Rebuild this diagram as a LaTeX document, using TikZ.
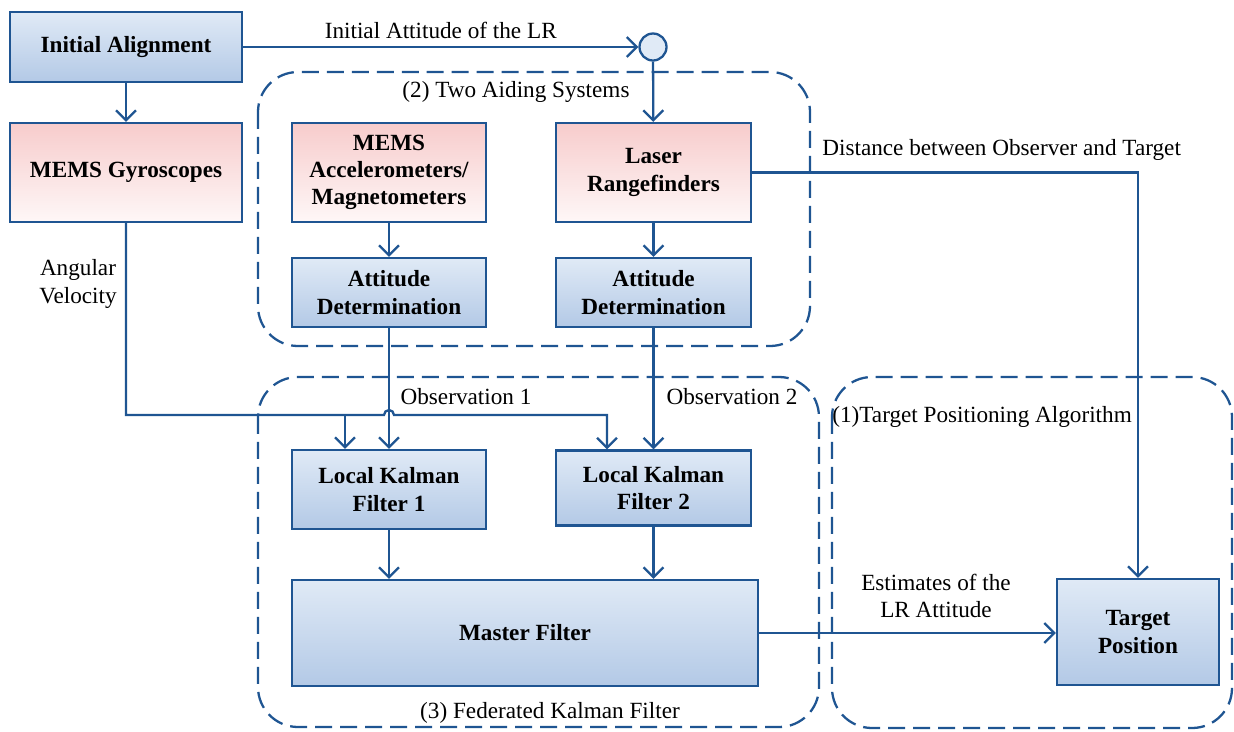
\documentclass[tikz,border=0pt]{standalone}
\usepackage{fontspec}
\setmainfont{Liberation Serif}
\usetikzlibrary{arrows.meta,positioning}
\definecolor{lineblue}{HTML}{1F5592}
\definecolor{boxtop}{HTML}{E0EAF6}
\definecolor{boxbot}{HTML}{B3C9E6}
\definecolor{pinktop}{HTML}{F7CCCC}
\definecolor{pinkbot}{HTML}{FEF7F7}
\newcommand{\diagfont}{\fontsize{13.2}{15.5}\selectfont}
\tikzset{>={Straight Barb[length=0.2cm,width=0.4cm]},
  bluebox/.style={draw=lineblue, line width=1.3pt, top color=boxtop, bottom color=boxbot,
    align=center, font=\diagfont\bfseries},
  pinkbox/.style={bluebox, top color=pinktop, bottom color=pinkbot},
  group/.style={draw=lineblue, line width=1.3pt, dash pattern=on 0.34cm off 0.16cm,
    rounded corners=0.8cm},
  link/.style={draw=lineblue, line width=1.3pt, ->}}

\begin{document}
\begin{tikzpicture}[x=0.02cm, y=-0.02cm, font=\diagfont]
    \useasboundingbox (0,0) rectangle (1234,731);

    % dashed groups
    \draw[group] (258,72) rectangle (810,346);
    \draw[group] (258,377) rectangle (819,727);
    \draw[group] (832,377) rectangle (1232,728);
    \node at (516,92) {(2) Two Aiding Systems};
    \node at (550,713) {(3) Federated Kalman Filter};
    \node[anchor=west, inner sep=0pt] at (832,417) {(1)Target Positioning Algorithm};

    % blocks
    \node[bluebox, minimum width=4.64cm, minimum height=1.4cm] (align) at (126,47) {Initial Alignment};
    \node[pinkbox, minimum width=4.64cm, minimum height=1.98cm] (gyro) at (126,172.5) {MEMS Gyroscopes};
    \node[pinkbox, minimum width=3.88cm, minimum height=1.98cm] (accel) at (389,172.5) {MEMS\\Accelerometers/\\Magnetometers};
    \node[pinkbox, minimum width=3.9cm, minimum height=1.98cm] (laser) at (653.5,172.5) {Laser\\Rangefinders};
    \node[bluebox, minimum width=3.88cm, minimum height=1.38cm] (att1) at (389,292.5) {Attitude\\Determination};
    \node[bluebox, minimum width=3.9cm, minimum height=1.38cm] (att2) at (653.5,292.5) {Attitude\\Determination};
    \node[bluebox, minimum width=3.88cm, minimum height=1.58cm] (kf1) at (389,489.5) {Local Kalman\\Filter 1};
    \node[bluebox, minimum width=3.9cm, minimum height=1.5cm] (kf2) at (653.5,488) {Local Kalman\\Filter 2};
    \node[bluebox, minimum width=9.32cm, minimum height=2.12cm] (master) at (525,633) {Master Filter};
    \node[bluebox, minimum width=3.24cm, minimum height=2.12cm] (target) at (1138,632) {Target\\Position};
    \node[circle, draw=lineblue, line width=1.3pt, fill=boxtop, minimum size=0.54cm, inner sep=0pt] (hub) at (653,47) {};

    % junction points on the angular velocity line
    \coordinate (tap1) at (345,415);
    \coordinate (hop) at (389,415);
    \coordinate (tap2) at (607,415);

    % connectors
    \draw[link] (align) -- node[above=1pt] {Initial Attitude of the LR} (hub);
    \draw[link] (hub) -- (laser);
    \draw[link] (align) -- (gyro);
    \draw[link] (accel) -- (att1);
    \draw[link] (laser) -- (att2);
    \draw[link] (att1) -- (kf1);
    \draw[link] (att2) -- (kf2);
    \draw[link] (gyro) |- ([xshift=-0.1cm]hop) arc[start angle=180, end angle=0, radius=0.1cm]
      -- (tap2) -- (kf2.north -| tap2);
    \draw[link] (tap1) -- (kf1.north -| tap1);
    \draw[link] (kf1) -- (kf1 |- master.north);
    \draw[link] (kf2) -- (kf2 |- master.north);
    \draw[link] (master.east) -- (master.east -| target.west);
    \draw[link] (laser) -| (target);

    % connector labels
    \node[align=center] at (78,284) {Angular\\Velocity};
    \node at (466,397) {Observation 1};
    \node at (732,397) {Observation 2};
    \node[anchor=west, inner sep=0pt] at (822,150) {Distance between Observer and Target};
    \node[align=center] at (936,596) {Estimates of the\\LR Attitude};
  \end{tikzpicture}
\end{document}
